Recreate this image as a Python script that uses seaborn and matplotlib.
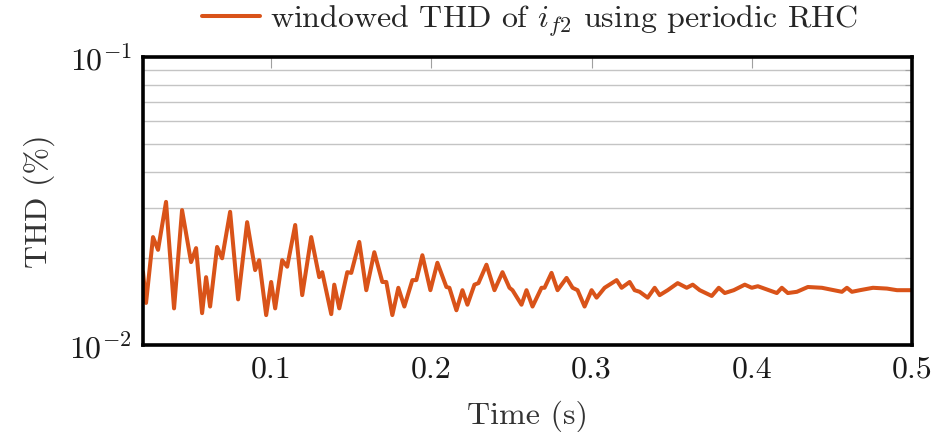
import matplotlib
matplotlib.use("Agg")
import matplotlib.pyplot as plt
import matplotlib.ticker as mticker
import numpy as np
import pandas as pd
import seaborn as sns

time_s = [0.020, 0.0219, 0.02625, 0.02938, 0.03438, 0.03938, 0.04438, 0.05, 0.05313, 0.05688,
          0.05938, 0.06188, 0.06625, 0.06938, 0.07438, 0.07938, 0.085, 0.09, 0.0925, 0.09688,
          0.1, 0.1025, 0.10688, 0.11, 0.115, 0.11938, 0.125, 0.13, 0.13188, 0.1375,
          0.13938, 0.1425, 0.1475, 0.15, 0.155, 0.15938, 0.16438, 0.16938, 0.17188, 0.17563,
          0.17938, 0.18313, 0.18813, 0.19063, 0.19438, 0.19938, 0.20375, 0.20938, 0.21125, 0.21563,
          0.21938, 0.2225, 0.22688, 0.22938, 0.23438, 0.23938, 0.24438, 0.24875, 0.25063, 0.25625,
          0.25938, 0.26313, 0.26875, 0.27063, 0.275, 0.27875, 0.28438, 0.28813, 0.29125, 0.29563,
          0.3, 0.30313, 0.30813, 0.31563, 0.31875, 0.32375, 0.32688, 0.33, 0.335, 0.33938,
          0.3425, 0.3475, 0.35375, 0.35938, 0.36313, 0.3675, 0.375, 0.37938, 0.38313, 0.38875,
          0.39563, 0.4, 0.40375, 0.41563, 0.41875, 0.4225, 0.42813, 0.435, 0.44375, 0.45625,
          0.45938, 0.4625, 0.4675, 0.47563, 0.48438, 0.49063, 0.49875, 0.5]

thd = [0.01793, 0.0140, 0.0237, 0.0214, 0.0314, 0.0134, 0.0294, 0.0194, 0.0217, 0.0129,
       0.0172, 0.0136, 0.0219, 0.0200, 0.0290, 0.0144, 0.0267, 0.0182, 0.0197, 0.0127,
       0.01655, 0.0134, 0.0197, 0.0187, 0.0261, 0.0149, 0.0237, 0.0172, 0.0179, 0.0128,
       0.0162, 0.0134, 0.0179, 0.0178, 0.0228, 0.0155, 0.0210, 0.01655, 0.01655, 0.0127,
       0.0158, 0.0136, 0.0168, 0.0168, 0.0205, 0.0155, 0.0193, 0.0159, 0.0158, 0.0132,
       0.0155, 0.0138, 0.0162, 0.0164, 0.0190, 0.0155, 0.0179, 0.0158, 0.0155, 0.0138,
       0.0155, 0.0136, 0.0158, 0.0158, 0.0178, 0.0155, 0.0171, 0.0158, 0.0155, 0.0136,
       0.0155, 0.0146, 0.0158, 0.0168, 0.0158, 0.01655, 0.0155, 0.0153, 0.0146, 0.0158,
       0.0149, 0.0155, 0.0164, 0.0158, 0.0162, 0.0155, 0.0148, 0.0158, 0.01515, 0.0155,
       0.0162, 0.0158, 0.0160, 0.01515, 0.0158, 0.01515, 0.0153, 0.0159, 0.0158, 0.0153,
       0.0158, 0.0153, 0.0155, 0.0158, 0.0157, 0.0155, 0.0155, 0.0155]

x_ticks = [0.1, 0.2, 0.3, 0.4, 0.5]
x_tick_labels = ["0.1", "0.2", "0.3", "0.4", "0.5"]
series_label = r"windowed THD of $i_{f2}$ using periodic RHC"

sns.set_theme(style="white")
plt.rcParams["font.family"] = ["cmr10", "DejaVu Serif"]
plt.rcParams["mathtext.fontset"] = "cm"
plt.rcParams["axes.unicode_minus"] = False
plt.rcParams["axes.formatter.use_mathtext"] = True

FS = 23

df = pd.DataFrame({"Time (s)": time_s, "THD": thd})

fig = plt.figure(figsize=(9.33, 4.32), dpi=100)
ax = fig.add_axes([143 / 933, 1 - 345 / 432, (912 - 143) / 933, (345 - 57) / 432])

sns.lineplot(data=df, x="Time (s)", y="THD", ax=ax, color="#D95319", linewidth=2.9,
             label=series_label, legend=False)
for ln in ax.get_lines():
    ln.set_solid_joinstyle("round")
    ln.set_solid_capstyle("round")

ax.set_yscale("log")
ax.set_ylim(1e-2, 1e-1)
ax.set_xlim(0.02, 0.5)
ax.set_xticks(x_ticks)
ax.set_xticklabels(x_tick_labels)
ax.yaxis.set_major_locator(mticker.LogLocator(base=10, numticks=5))
ax.yaxis.set_minor_locator(mticker.LogLocator(base=10, subs=np.arange(2, 10), numticks=20))
ax.yaxis.set_minor_formatter(mticker.NullFormatter())

ax.grid(False)
ax.yaxis.grid(True, which="both", color="#c4c4c4", linewidth=1.0)
ax.set_axisbelow(True)

for s in ax.spines.values():
    s.set_color("black")
    s.set_linewidth(2.6)

ax.tick_params(axis="both", which="both", direction="in", top=True, right=True,
               color="#a0a0a0", width=0.8, labelsize=FS, pad=8, labelcolor="#1a1a1a")
ax.tick_params(axis="both", which="major", length=8)
ax.tick_params(axis="y", which="minor", length=5)

ax.set_xlabel("Time (s)", fontsize=FS, color="#333333", labelpad=12)
ax.set_ylabel("THD (%)", fontsize=FS, color="#333333", labelpad=10)

handles, labels = ax.get_legend_handles_labels()
fig.legend(handles, labels, loc="center", bbox_to_anchor=(530 / 933, 1 - 21 / 432),
           frameon=False, fontsize=FS, handlelength=1.8, handletextpad=0.3)

fig.savefig("out.png", dpi=100)
